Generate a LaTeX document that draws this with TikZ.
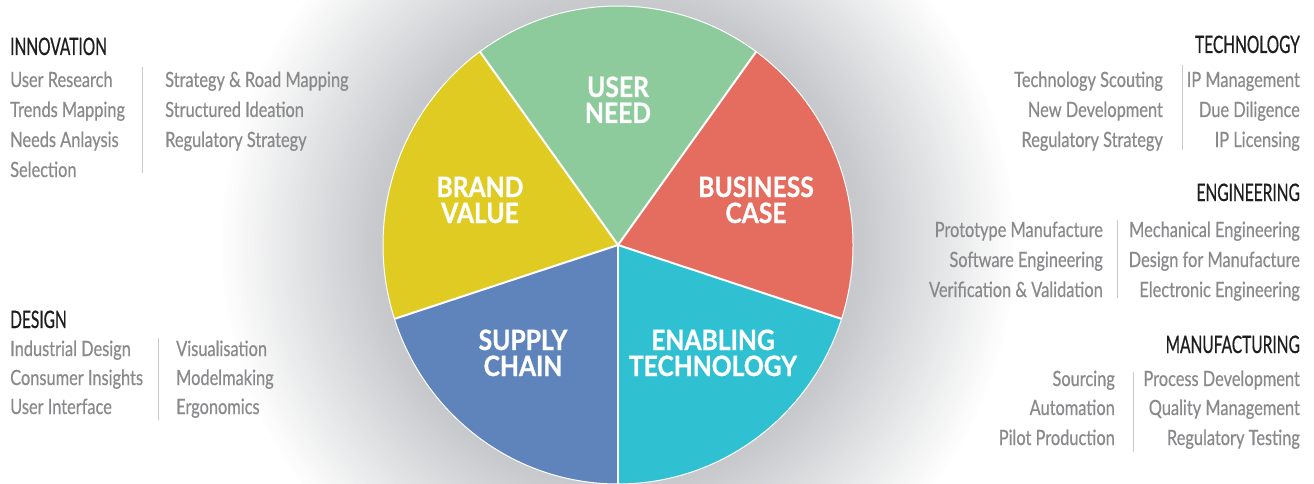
\documentclass[tikz,border=0pt]{standalone}
\usepackage{fontspec}
\setmainfont{Lato}
\newfontfamily\itemfont[FakeStretch=0.78,FakeBold=0.5]{Lato}
\newfontfamily\headfont[FakeStretch=0.645,FakeBold=0.6]{Lato}
\newfontfamily\piefont[FakeStretch=0.88,FakeBold=0.8]{Lato}
\definecolor{cgreen}{HTML}{8ECB9C}
\definecolor{cred}{HTML}{E46D5F}
\definecolor{cyellow}{HTML}{E0CB22}
\definecolor{cblue}{HTML}{5F84BC}
\definecolor{ccyan}{HTML}{2FC0D2}
\definecolor{itemgray}{HTML}{8A8A8D}
\definecolor{headdark}{HTML}{1E1E1E}
\definecolor{glowgray}{HTML}{C6C8CB}
\definecolor{divgray}{HTML}{C8C8C8}
\tikzset{
  item/.style={font=\itemfont\fontsize{21}{21}\selectfont, text=itemgray, inner sep=0pt},
  head/.style={font=\headfont\fontsize{24}{24}\selectfont, text=headdark, inner sep=0pt},
  pielabel/.style={font=\piefont\bfseries\fontsize{28}{28}\selectfont, text=white, inner sep=0pt, text height=20pt, text depth=0pt, anchor=base},
  divider/.style={draw=divgray, line width=1pt},
  sep/.style={draw=white, line width=2pt},
}
\begin{document}
\begin{tikzpicture}[x=1pt,y=-1pt]
\useasboundingbox (0,0) rectangle (1314,484);
\begin{scope}
\clip (0,0) rectangle (1314,484);
\fill[white] (0,0) rectangle (1314,484);
\foreach \i in {0,...,40} {
  \pgfmathsetmacro{\rr}{400-4.1*\i}
  \pgfmathsetmacro{\pp}{min(100,2.6*\i)}
  \fill[glowgray!\pp!white] (618,245) circle [radius=\rr];
}
\end{scope}
% pie
\begin{scope}[shift={(618,245)}, yscale=1.017]
\fill[cgreen]  (0,0) -- (234:235) arc[start angle=234, end angle=306, radius=235] -- cycle;
\fill[cred]    (0,0) -- (306:235) arc[start angle=306, end angle=378, radius=235] -- cycle;
\fill[ccyan]   (0,0) -- (18:235)  arc[start angle=18,  end angle=90,  radius=235] -- cycle;
\fill[cblue]   (0,0) -- (90:235)  arc[start angle=90,  end angle=162, radius=235] -- cycle;
\fill[cyellow] (0,0) -- (162:235) arc[start angle=162, end angle=234, radius=235] -- cycle;
\foreach \a in {18,90,162,234,306} \draw[sep] (0,0) -- (\a:235);
\draw[white, line width=1pt] (0,0) circle [radius=235];
\end{scope}
\node[pielabel] (user) at (618,97) {USER};
\node[pielabel] (need) at (618,123) {NEED};
\node[pielabel] (brand) at (480,197) {BRAND};
\node[pielabel] (value) at (480,223) {VALUE};
\node[pielabel] (business) at (756,197) {BUSINESS};
\node[pielabel] (case) at (756,223) {CASE};
\node[pielabel] (supply) at (523,350) {SUPPLY};
\node[pielabel] (chain) at (523,376) {CHAIN};
\node[pielabel] (enabling) at (713,350) {ENABLING};
\node[pielabel] (technology) at (713,376) {TECHNOLOGY};
% INNOVATION
\node[head, anchor=base west] (innovh) at (10,55) {INNOVATION};
\node[item, anchor=base west] (in1) at (10,87) {User Research};
\node[item, anchor=base west] (in2) at (10,117) {Trends Mapping};
\node[item, anchor=base west] (in3) at (10,147) {Needs Anlaysis};
\node[item, anchor=base west] (in4) at (10,177) {Selection};
\node[item, anchor=base west] (in5) at (165,87) {Strategy \& Road Mapping};
\node[item, anchor=base west] (in6) at (165,117) {Structured Ideation};
\node[item, anchor=base west] (in7) at (165,147) {Regulatory Strategy};
\draw[divider] (142,67) -- (142,173);
% DESIGN
\node[head, anchor=base west] (designh) at (10,328) {DESIGN};
\node[item, anchor=base west] (de1) at (10,356) {Industrial Design};
\node[item, anchor=base west] (de2) at (10,385) {Consumer Insights};
\node[item, anchor=base west] (de3) at (10,414) {User Interface};
\node[item, anchor=base west] (de4) at (176,356) {Visualisation};
\node[item, anchor=base west] (de5) at (176,385) {Modelmaking};
\node[item, anchor=base west] (de6) at (176,414) {Ergonomics};
\draw[divider] (158,338) -- (158,420);
% TECHNOLOGY
\node[head, anchor=base east] (techh) at (1300,53) {TECHNOLOGY};
\node[item, anchor=base east] (te1) at (1163,87) {Technology Scouting};
\node[item, anchor=base east] (te2) at (1163,117) {New Development};
\node[item, anchor=base east] (te3) at (1163,147) {Regulatory Strategy};
\node[item, anchor=base east] (te4) at (1300,87) {IP Management};
\node[item, anchor=base east] (te5) at (1300,117) {Due Diligence};
\node[item, anchor=base east] (te6) at (1300,147) {IP Licensing};
\draw[divider] (1182,65) -- (1182,150);
% ENGINEERING
\node[head, anchor=base east] (engh) at (1300,201) {ENGINEERING};
\node[item, anchor=base east] (en1) at (1103,237) {Prototype Manufacture};
\node[item, anchor=base east] (en2) at (1103,267) {Software Engineering};
\node[item, anchor=base east] (en3) at (1103,297) {Verification \& Validation};
\node[item, anchor=base east] (en4) at (1300,237) {Mechanical Engineering};
\node[item, anchor=base east] (en5) at (1300,267) {Design for Manufacture};
\node[item, anchor=base east] (en6) at (1300,297) {Electronic Engineering};
\draw[divider] (1117,220) -- (1117,298);
% MANUFACTURING
\node[head, anchor=base east] (manh) at (1300,353) {MANUFACTURING};
\node[item, anchor=base east] (ma1) at (1115,386) {Sourcing};
\node[item, anchor=base east] (ma2) at (1115,415) {Automation};
\node[item, anchor=base east] (ma3) at (1115,445) {Pilot Production};
\node[item, anchor=base east] (ma4) at (1300,386) {Process Development};
\node[item, anchor=base east] (ma5) at (1300,415) {Quality Management};
\node[item, anchor=base east] (ma6) at (1300,445) {Regulatory Testing};
\draw[divider] (1133,372) -- (1133,452);
\end{tikzpicture}
\end{document}
